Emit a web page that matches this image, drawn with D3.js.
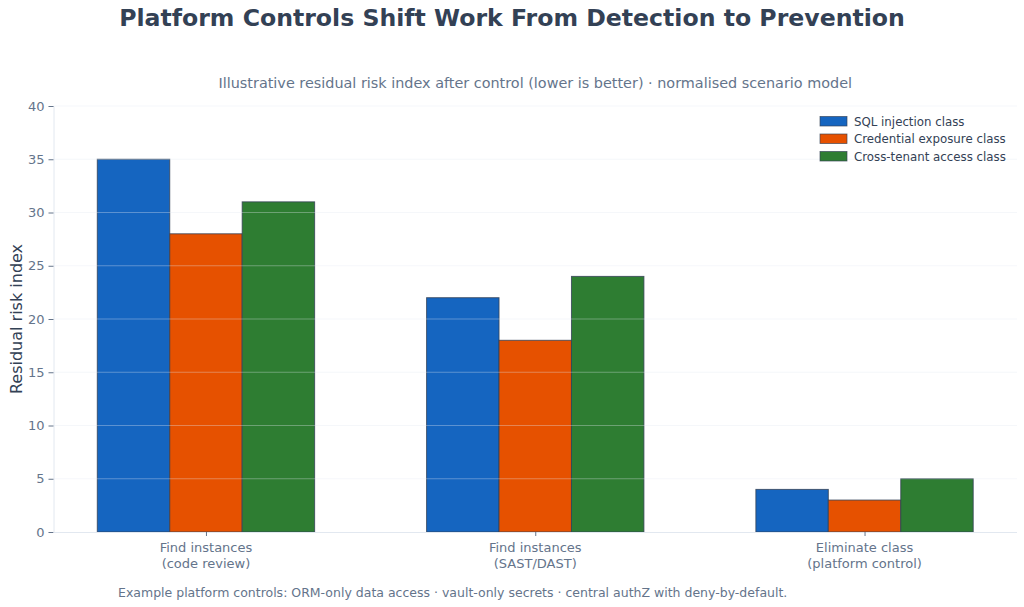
<!DOCTYPE html>
<html><head><meta charset="utf-8">
<script src="https://cdn.jsdelivr.net/npm/d3@7/dist/d3.min.js"></script>
<style>body{margin:0;background:#fff}svg{display:block}text{font-family:"DejaVu Sans",sans-serif}</style>
</head><body>
<svg id="c" width="1024" height="607"></svg>
<script>
const categories = ["Find instances\n(code review)", "Find instances\n(SAST/DAST)", "Eliminate class\n(platform control)"];
const seriesNames = ["SQL injection class", "Credential exposure class", "Cross-tenant access class"];
const sqlValues = [35, 22, 4];
const credValues = [28, 18, 3];
const tenantValues = [31, 24, 5];
const yTicks = [0, 5, 10, 15, 20, 25, 30, 35, 40];
const colors = ["#1565c0", "#e65100", "#2e7d32"];
const series = [sqlValues, credValues, tenantValues];

const svg = d3.select("#c");
const L = 53.5, R = 1017, T = 106, B = 532;
const barW = 0.22;
const x = d3.scaleLinear().domain([-0.463, 2.463]).range([L, R]);
const y = d3.scaleLinear().domain([0, 40]).range([B, T]);

svg.append("text").attr("x", 512).attr("y", 26).attr("text-anchor", "middle")
  .attr("font-size", 23.6).attr("font-weight", "bold").attr("fill", "#334155")
  .text("Platform Controls Shift Work From Detection to Prevention");
svg.append("text").attr("x", (L + R) / 2).attr("y", 88).attr("text-anchor", "middle")
  .attr("font-size", 14.4).attr("fill", "#64748b")
  .text("Illustrative residual risk index after control (lower is better) · normalised scenario model");

// bars
series.forEach((vals, si) => {
  svg.append("g").selectAll("rect").data(vals).join("rect")
    .attr("x", (d, i) => x(i + (si - 1) * barW - barW / 2))
    .attr("width", x(barW) - x(0))
    .attr("y", d => y(d))
    .attr("height", d => y(0) - y(d))
    .attr("fill", colors[si])
    .attr("stroke", "#334155").attr("stroke-opacity", 0.8).attr("stroke-width", 1);
});

// grid on top
svg.append("g").selectAll("line").data(yTicks.filter(t => t > 0)).join("line")
  .attr("x1", L).attr("x2", R).attr("y1", d => y(d)).attr("y2", d => y(d))
  .attr("stroke", "#e2e8f0").attr("stroke-opacity", 0.35).attr("stroke-width", 1);

// axes
const ya = svg.append("g").attr("transform", `translate(${L},0)`)
  .call(d3.axisLeft(y).tickValues(yTicks).tickSize(5).tickPadding(4));
ya.select(".domain").attr("stroke", "#e2e8f0");
ya.selectAll(".tick line").attr("stroke", "#64748b");
ya.selectAll(".tick text").attr("fill", "#64748b").attr("font-size", 13).attr("font-family", "DejaVu Sans");

const xa = svg.append("g").attr("transform", `translate(0,${B})`)
  .call(d3.axisBottom(x).tickValues([0, 1, 2]).tickSize(4).tickFormat(""));
xa.select(".domain").attr("stroke", "#e2e8f0").attr("d", `M${L},0.5H${R}`);
xa.selectAll(".tick line").attr("stroke", "#64748b");
categories.forEach((c, i) => {
  const t = svg.append("text").attr("x", x(i)).attr("y", B + 20).attr("text-anchor", "middle")
    .attr("font-size", 13).attr("fill", "#64748b");
  c.split("\n").forEach((line, k) => t.append("tspan").attr("x", x(i)).attr("dy", k ? 16 : 0).text(line));
});

svg.append("text").attr("transform", `translate(22,${(T + B) / 2}) rotate(-90)`)
  .attr("text-anchor", "middle").attr("font-size", 16).attr("fill", "#334155")
  .text("Residual risk index");

// legend
const lg = svg.append("g");
seriesNames.forEach((n, i) => {
  const yy = 121 + i * 17.5;
  lg.append("rect").attr("x", 820).attr("y", yy - 4.5).attr("width", 27).attr("height", 9.5)
    .attr("fill", colors[i]).attr("stroke", "#334155").attr("stroke-opacity", 0.8).attr("stroke-width", 0.8);
  lg.append("text").attr("x", 854).attr("y", yy + 4.5).attr("font-size", 11.8).attr("fill", "#334155").text(n);
});

svg.append("text").attr("x", 118).attr("y", 597).attr("font-size", 12.5).attr("fill", "#64748b")
  .text("Example platform controls: ORM-only data access · vault-only secrets · central authZ with deny-by-default.");
</script>
</body></html>
